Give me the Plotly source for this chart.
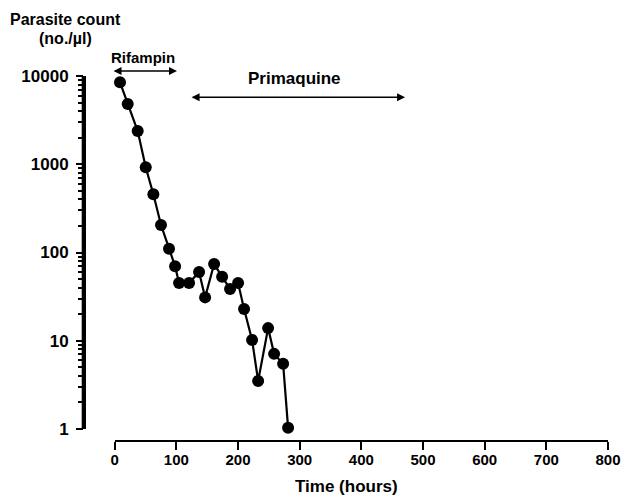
import plotly.graph_objects as go

# Data
hours = [8.6, 21.1, 37.3, 50.3, 62.7, 75.1, 88.1, 97.9, 104.4, 120.6, 136.8, 146.6,
         161.2, 174.2, 187.1, 200.1, 209.8, 222.8, 232.6, 248.8, 258.5, 273.1, 281.2]
parasite_count = [8490, 4820, 2380, 923, 456, 205, 110, 70, 45, 45, 60, 31,
                  74, 53, 38.5, 45, 22.9, 10.2, 3.5, 13.9, 7.1, 5.5, 1.03]

x_ticks = [0, 100, 200, 300, 400, 500, 600, 700, 800]
y_ticks = [1, 10, 100, 1000, 10000]
y_tick_labels = ["1", "10", "100", "1000", "10000"]
minor_y = [m * 10 ** d for d in range(0, 4) for m in range(2, 10)]

# Treatment periods (hours)
rifampin_span = [-4.4, 101]
primaquine_span = [122.2, 470.9]

FONT = "Liberation Sans, Arial, Helvetica, sans-serif"
X_DOMAIN0 = 0.0586
Y_DOMAIN0 = 0.0329          # gap between x-axis line and the "1" tick
Y_RANGE = [0, 4]            # log10 of 1 .. 10000


def xpaper(h):
    return X_DOMAIN0 + h / 800 * (1 - X_DOMAIN0)


def ypaper(logv):
    return Y_DOMAIN0 + (logv - Y_RANGE[0]) / (Y_RANGE[1] - Y_RANGE[0]) * (1 - Y_DOMAIN0)


fig = go.Figure()
fig.add_trace(go.Scatter(
    x=hours, y=parasite_count, mode="lines+markers",
    line=dict(color="black", width=2.2),
    marker=dict(color="black", size=12),
    cliponaxis=False, showlegend=False,
))

fig.update_layout(
    width=638, height=497,
    margin=dict(l=84, r=30, t=76, b=56),
    paper_bgcolor="white", plot_bgcolor="rgba(0,0,0,0)",
    font=dict(family=FONT, color="black"),
    xaxis=dict(
        domain=[X_DOMAIN0, 1], range=[0, 800], tickvals=x_ticks,
        anchor="free", position=0,
        showline=True, linecolor="black", linewidth=2,
        ticks="outside", ticklen=8, tickwidth=2, tickcolor="black",
        showgrid=False, zeroline=False, ticklabelstandoff=-3,
        tickfont=dict(size=15, weight="bold", family=FONT),
    ),
    yaxis=dict(
        type="log", range=Y_RANGE, domain=[Y_DOMAIN0, 1], anchor="free", position=0,
        tickvals=y_ticks, ticktext=y_tick_labels,
        showline=True, linecolor="black", linewidth=3,
        ticks="outside", ticklen=7, tickwidth=2, tickcolor="black",
        showgrid=False, zeroline=False, ticklabelstandoff=4,
        tickfont=dict(size=17, weight="bold", family=FONT),
        minor=dict(tickvals=minor_y, ticks="outside", ticklen=5, tickwidth=1.5,
                   tickcolor="black", showgrid=False),
    ),
)

# Extra guarantee for the y-axis line (paper-referenced, drawn on top)
fig.add_shape(type="line", xref="paper", yref="paper", x0=-0.002, x1=-0.002,
              y0=ypaper(0), y1=ypaper(4), line=dict(color="black", width=2.5),
              layer="above")

# Treatment arrows (paper coordinates so they are not hidden outside the range)
px_per_hour = 524 * (1 - X_DOMAIN0) / 800
for span, ylog in [(rifampin_span, 4.057), (primaquine_span, 3.759)]:
    fig.add_annotation(x=xpaper(span[1]), y=ypaper(ylog),
                       ax=-(span[1] - span[0]) * px_per_hour, ay=0,
                       xref="paper", yref="paper", axref="pixel", ayref="pixel",
                       text="", showarrow=True, arrowhead=2, startarrowhead=2,
                       arrowside="end+start", arrowsize=1, arrowwidth=1.6,
                       arrowcolor="black")

fig.add_annotation(x=xpaper(45.9), y=ypaper(4.204), xref="paper", yref="paper",
                   text="Rifampin", showarrow=False, xanchor="center", yanchor="middle",
                   font=dict(size=15, weight="bold", family=FONT))
fig.add_annotation(x=xpaper(291), y=ypaper(3.977), xref="paper", yref="paper",
                   text="Primaquine", showarrow=False, xanchor="center", yanchor="middle",
                   font=dict(size=17, weight="bold", family=FONT))

# Axis titles
fig.add_annotation(x=-0.0344, y=1.156, xref="paper", yref="paper",
                   text="Parasite count", showarrow=False, xanchor="center", yanchor="middle",
                   font=dict(size=16, weight="bold", family=FONT))
fig.add_annotation(x=-0.036, y=1.104, xref="paper", yref="paper",
                   text="(no./µl)", showarrow=False, xanchor="center", yanchor="middle",
                   font=dict(size=16, weight="bold", family=FONT))
fig.add_annotation(x=0.5, y=-0.126, xref="paper", yref="paper",
                   text="Time (hours)", showarrow=False, xanchor="center", yanchor="middle",
                   font=dict(size=17, weight="bold", family=FONT))

fig.write_html("out.html", config={"displayModeBar": False},
               post_script="document.body.style.margin='0px';")
